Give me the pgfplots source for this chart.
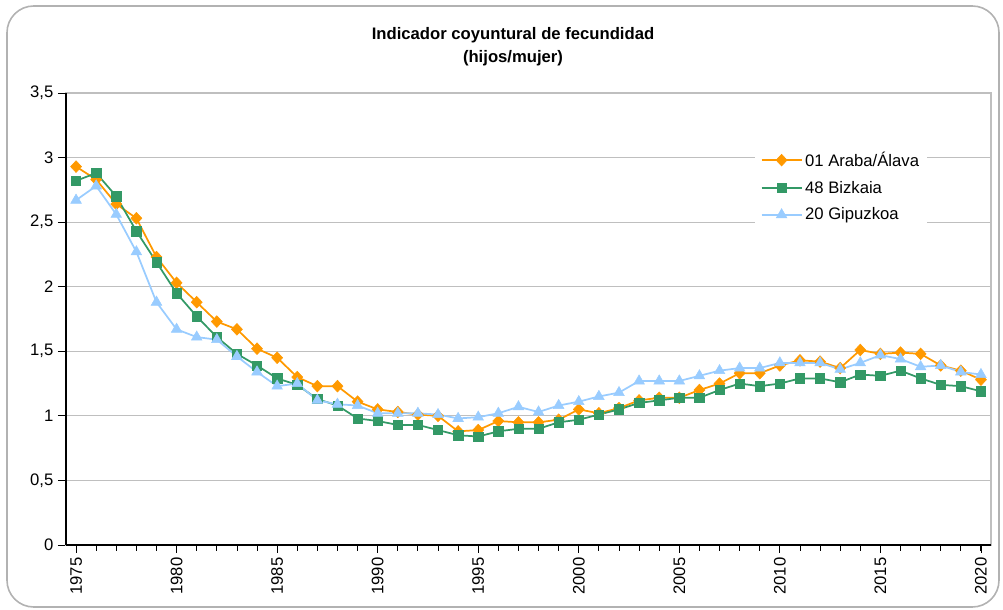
\documentclass[border=0pt]{standalone}
\usepackage{fontspec}
\setmainfont{Liberation Sans}
\usepackage{pgfplots}
\usepackage{pgfplotstable}
\pgfplotsset{compat=1.18}
\definecolor{cOr}{HTML}{FF9900}
\definecolor{cGr}{HTML}{339966}
\definecolor{cBl}{HTML}{99CCFF}
\definecolor{cGrid}{HTML}{BFBFBF}

\pgfplotstableread{
year araba bizkaia gipuzkoa
1975 2.93 2.82 2.67
1976 2.83 2.88 2.78
1977 2.64 2.70 2.56
1978 2.53 2.43 2.27
1979 2.23 2.19 1.88
1980 2.03 1.95 1.67
1981 1.88 1.77 1.61
1982 1.73 1.61 1.59
1983 1.67 1.48 1.46
1984 1.52 1.39 1.34
1985 1.45 1.29 1.23
1986 1.30 1.24 1.25
1987 1.23 1.13 1.12
1988 1.23 1.08 1.09
1989 1.11 0.98 1.08
1990 1.05 0.96 1.02
1991 1.03 0.93 1.02
1992 1.01 0.93 1.02
1993 1.00 0.89 1.01
1994 0.88 0.85 0.98
1995 0.89 0.84 0.99
1996 0.96 0.88 1.02
1997 0.95 0.90 1.07
1998 0.95 0.90 1.03
1999 0.97 0.95 1.08
2000 1.05 0.97 1.11
2001 1.02 1.01 1.15
2002 1.06 1.05 1.18
2003 1.12 1.10 1.27
2004 1.14 1.12 1.27
2005 1.14 1.14 1.27
2006 1.20 1.14 1.31
2007 1.25 1.20 1.35
2008 1.33 1.25 1.37
2009 1.33 1.23 1.37
2010 1.39 1.25 1.41
2011 1.43 1.29 1.41
2012 1.42 1.29 1.41
2013 1.37 1.26 1.36
2014 1.51 1.32 1.41
2015 1.48 1.31 1.47
2016 1.49 1.35 1.44
2017 1.48 1.29 1.38
2018 1.39 1.24 1.39
2019 1.35 1.23 1.34
2020 1.28 1.19 1.32
}\datatable

\begin{document}
\begin{tikzpicture}
\begin{scope}[x=0.75pt,y=0.75pt]
\path[use as bounding box] (0,0) rectangle (1003,610);
\draw[rounded corners=20pt, color=black!30, line width=1.2pt] (7,3) rectangle (999,604);
\node[font=\fontsize{12.5}{17}\selectfont\bfseries, align=center] at (513,563) {Indicador coyuntural de fecundidad\\(hijos/mujer)};
\end{scope}
\begin{axis}[
  at={(49.5pt,48.75pt)}, anchor=south west, scale only axis,
  width=693.75pt, height=339pt,
  xmin=1974.5, xmax=2020.5, ymin=0, ymax=3.5,
  axis line style={cGrid, line width=0.8pt},
  tick style={black, line width=0.6pt},
  tick align=outside, xtick pos=bottom, ytick pos=left,
  major tick length=6pt, minor tick length=4.5pt,
  xtick={1975,1980,...,2020},
  minor xtick={1975,...,2020},
  ytick={0,0.5,...,3.5},
  ymajorgrids, grid style={cGrid, line width=0.8pt},
  ticklabel style={font=\fontsize{12.5}{14}\selectfont},
  /pgf/number format/assume math mode=true,
  /pgf/number format/use comma,
  xticklabel style={rotate=90, anchor=east, /pgf/number format/1000 sep={}},
  yticklabel style={/pgf/number format/fixed},
  legend cell align=left,
  legend style={at={(rel axis cs:0.745,0.885)}, anchor=north west, draw=none, fill=white,
    font=\fontsize{12.5}{14}\selectfont, row sep=5.5pt, inner xsep=4pt, inner ysep=3pt,
    nodes={inner xsep=2pt}},
  legend image code/.code={\draw[#1, mark repeat=2, mark phase=2] plot coordinates {(0pt,0pt) (15pt,0pt) (30pt,0pt)};},
  every axis plot/.append style={line width=1.3pt},
]
\addplot[color=cOr, mark=diamond*, mark size=4.4pt, mark options={solid, fill=cOr, xscale=1.25, line width=0.4pt}] table[x=year, y=araba] {\datatable};
\addlegendentry{01 Araba/Álava}
\addplot[color=cGr, mark=square*, mark size=3.5pt, mark options={solid, fill=cGr, line width=0.4pt}] table[x=year, y=bizkaia] {\datatable};
\addlegendentry{48 Bizkaia}
\addplot[color=cBl, mark=triangle*, mark size=4.6pt, mark options={solid, fill=cBl, line width=0.4pt}] table[x=year, y=gipuzkoa] {\datatable};
\addlegendentry{20 Gipuzkoa}
\end{axis}
\draw[black, line width=0.8pt] (49.5pt,48.75pt) -- (49.5pt,387.75pt);
\draw[black, line width=0.8pt] (49.5pt,48.75pt) -- (743.25pt,48.75pt);
\end{tikzpicture}
\end{document}
